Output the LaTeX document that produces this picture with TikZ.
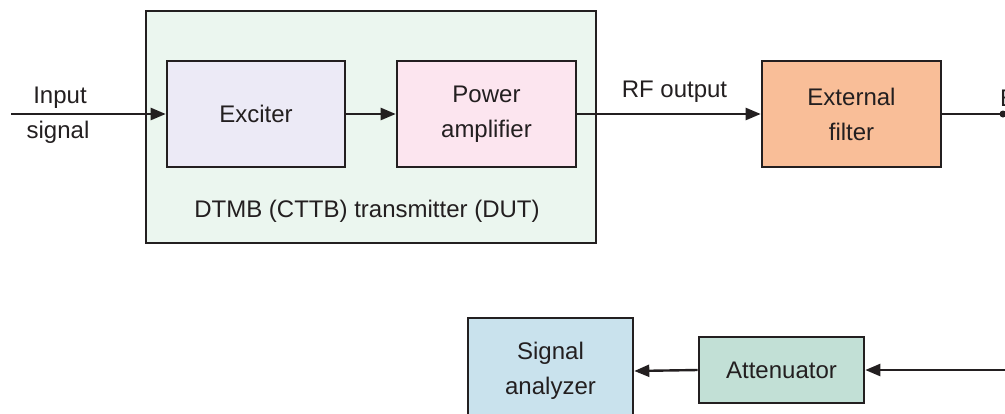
\documentclass[tikz,border=0pt]{standalone}
\usepackage{fontspec}
\setmainfont{Liberation Sans}
\usetikzlibrary{arrows.meta}
\definecolor{edge}{HTML}{231F20}
\definecolor{dutfill}{HTML}{EBF6EF}
\definecolor{excfill}{HTML}{ECEAF6}
\definecolor{pafill}{HTML}{FCE5EF}
\definecolor{filtfill}{HTML}{F9BE98}
\definecolor{safill}{HTML}{C9E2ED}
\definecolor{attfill}{HTML}{C2E0D6}
\begin{document}
\begin{tikzpicture}[x=1pt,y=-1pt,
  every node/.style={font=\fontsize{24}{35}\selectfont, text=edge},
  blk/.style={draw=edge, line width=2.6pt, inner sep=0pt, align=center},
  conn/.style={draw=edge, line width=2.4pt},
  arr/.style={conn, -{Triangle[length=15pt,width=12pt]}},
  lbl/.style={inner sep=0pt, anchor=base}]
\useasboundingbox (0,0) rectangle (1005,413);
\clip (0,0) rectangle (1005,413);
% DUT container
\node[blk, fill=dutfill, minimum width=450pt, minimum height=232pt] (dut) at (371,127) {};
\node[lbl] (dutlbl) at (367,217) {DTMB (CTTB) transmitter (DUT)};
% blocks
\node[blk, fill=excfill, minimum width=178pt, minimum height=106pt] (exc) at (256,114) {Exciter};
\node[blk, fill=pafill, minimum width=179pt, minimum height=106pt] (pa) at (486.5,114) {Power\\amplifier};
\node[blk, fill=filtfill, minimum width=179pt, minimum height=106pt] (filt) at (851.5,114) {External\\filter};
\node[blk, fill=safill, minimum width=165pt, minimum height=106pt] (sa) at (550.5,371) {Signal\\analyzer};
\node[blk, fill=attfill, minimum width=165pt, minimum height=66pt] (att) at (781.5,370) {Attenuator};
% labels
\node[lbl] (inlbl1) at (60,103) {Input};
\node[lbl] (inlbl2) at (58,138) {signal};
\node[lbl] (rflbl) at (674.5,97) {RF output};
\node[lbl, anchor=base west] (elbl) at (1000,106) {E};
% coordinates
\coordinate (in) at (11,114);
\coordinate (out) at (1003,114);
\coordinate (ret) at (1006,370);
% connectors
\draw[arr] (in) -- (exc.west);
\draw[arr] (exc.east) -- (pa.west);
\draw[arr] (pa.east) -- (filt.west);
\draw[conn] (filt.east) -- (out);
\fill[edge] (out) circle (3.5pt);
\draw[arr] (ret) -- (att.east);
\draw[arr] (att.west) -- (sa.east);
\end{tikzpicture}
\end{document}
